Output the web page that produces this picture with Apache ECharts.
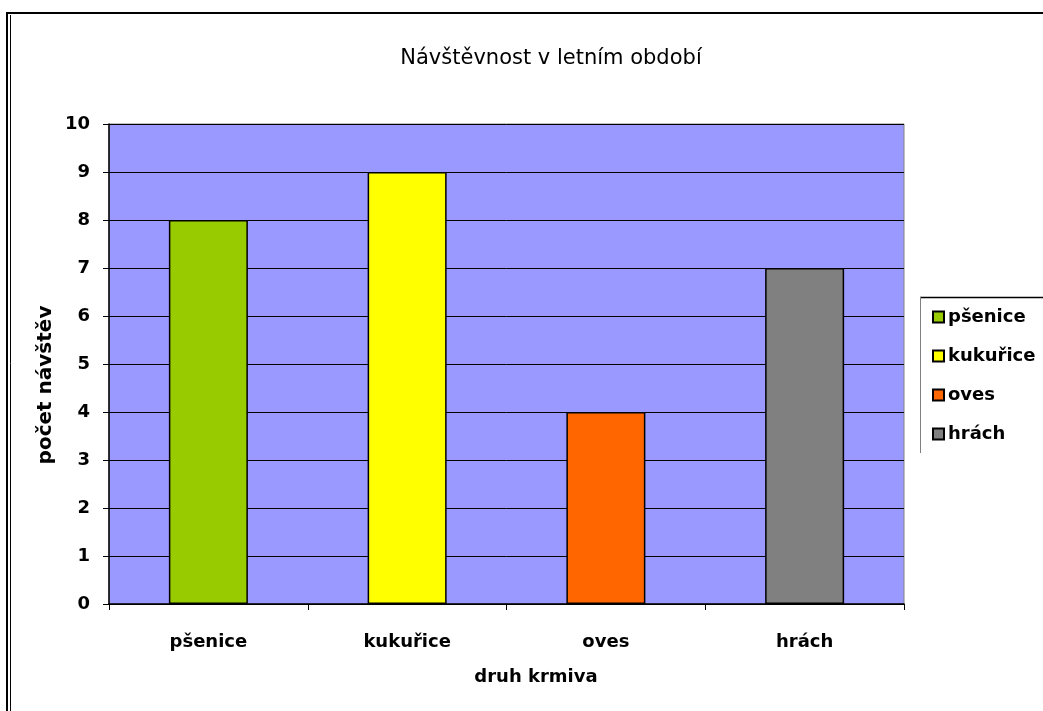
<!DOCTYPE html>
<html><head><meta charset="utf-8">
<script src="https://cdn.jsdelivr.net/npm/echarts@6/dist/echarts.min.js"></script>
<style>html,body{margin:0;padding:0;background:#fff}#c{width:1043px;height:711px}</style>
</head><body><div id="c"></div>
<script>
const categories = ['pšenice', 'kukuřice', 'oves', 'hrách'];
const values = [8, 9, 4, 7];
const colors = ['#99CC00', '#FFFF00', '#FF6600', '#808080'];
const yTicks = [0, 1, 2, 3, 4, 5, 6, 7, 8, 9, 10];
const titleText = 'Návštěvnost v letním období';
const xName = 'druh krmiva';
const yName = 'počet návštěv';

const FONT = '"DejaVu Sans", sans-serif';
const series = categories.map((c, i) => ({
  name: c,
  type: 'bar',
  barWidth: 79,
  barGap: '-100%',
  data: categories.map((_, j) => (j === i ? values[i] : '-')),
  itemStyle: { color: colors[i], borderColor: '#000', borderWidth: 1.5 },
  emphasis: { disabled: true },
  animation: false
}));

const chart = echarts.init(document.getElementById('c'));
chart.setOption({
  animation: false,
  title: {
    text: titleText, left: 546, top: 43, textAlign: 'center',
    textStyle: { fontFamily: FONT, fontSize: 21, fontWeight: 'normal', color: '#000' }
  },
  grid: { left: 109, top: 124, width: 795, height: 480, show: true, backgroundColor: '#9999FF', borderColor: '#808080', borderWidth: 1 },
  legend: {
    orient: 'vertical', left: 932, top: 308, padding: 0,
    itemWidth: 11, itemHeight: 11, itemGap: 21,
    icon: 'rect',
    itemStyle: { borderColor: '#000', borderWidth: 2 },
    textStyle: { fontFamily: FONT, fontSize: 18, fontWeight: 'bold', color: '#000', padding: [0, 0, 0, -1] },
    data: categories,
    selectedMode: false
  },
  xAxis: {
    type: 'category', data: categories,
    axisLine: { lineStyle: { color: '#000', width: 1.5 } },
    axisTick: { show: true, length: 6, lineStyle: { color: '#000' } },
    axisLabel: { fontFamily: FONT, fontSize: 18, fontWeight: 'bold', color: '#000', margin: 29 }
  },
  yAxis: {
    type: 'value', min: yTicks[0], max: yTicks[yTicks.length - 1], interval: 1,
    axisLine: { show: true, lineStyle: { color: '#000', width: 1.5 } },
    axisTick: { show: true, length: 6, lineStyle: { color: '#000' } },
    axisLabel: { fontFamily: FONT, fontSize: 18, fontWeight: 'bold', color: '#000', margin: 19 },
    splitLine: { show: true, lineStyle: { color: '#000', width: 1 } }
  },
  graphic: [
    { type: 'line', shape: { x1: 7, y1: 13, x2: 1050, y2: 13 }, style: { stroke: '#000', lineWidth: 2 } },
    { type: 'line', shape: { x1: 7, y1: 12, x2: 7, y2: 720 }, style: { stroke: '#000', lineWidth: 2 } },
    { type: 'line', shape: { x1: 10.5, y1: 15, x2: 10.5, y2: 720 }, style: { stroke: '#000', lineWidth: 1 } },
    { type: 'rect', shape: { x: 920.5, y: 297, width: 200, height: 156 }, style: { fill: '#fff', stroke: 'none' }, z: -1 },
    { type: 'line', shape: { x1: 920, y1: 297.5, x2: 1050, y2: 297.5 }, style: { stroke: '#000', lineWidth: 1.5 } },
    { type: 'line', shape: { x1: 920.5, y1: 297, x2: 920.5, y2: 453 }, style: { stroke: '#808080', lineWidth: 1 } },
    { type: 'text', x: 536, y: 677, style: { text: xName, fontFamily: FONT, fontSize: 18, fontWeight: 'bold', fill: '#000', align: 'center', verticalAlign: 'middle' } },
    { type: 'text', x: 46, y: 385, rotation: Math.PI / 2, style: { text: yName, fontFamily: FONT, fontSize: 20, fontWeight: 'bold', fill: '#000', align: 'center', verticalAlign: 'middle' } }
  ],
  series: series
});
</script></body></html>
